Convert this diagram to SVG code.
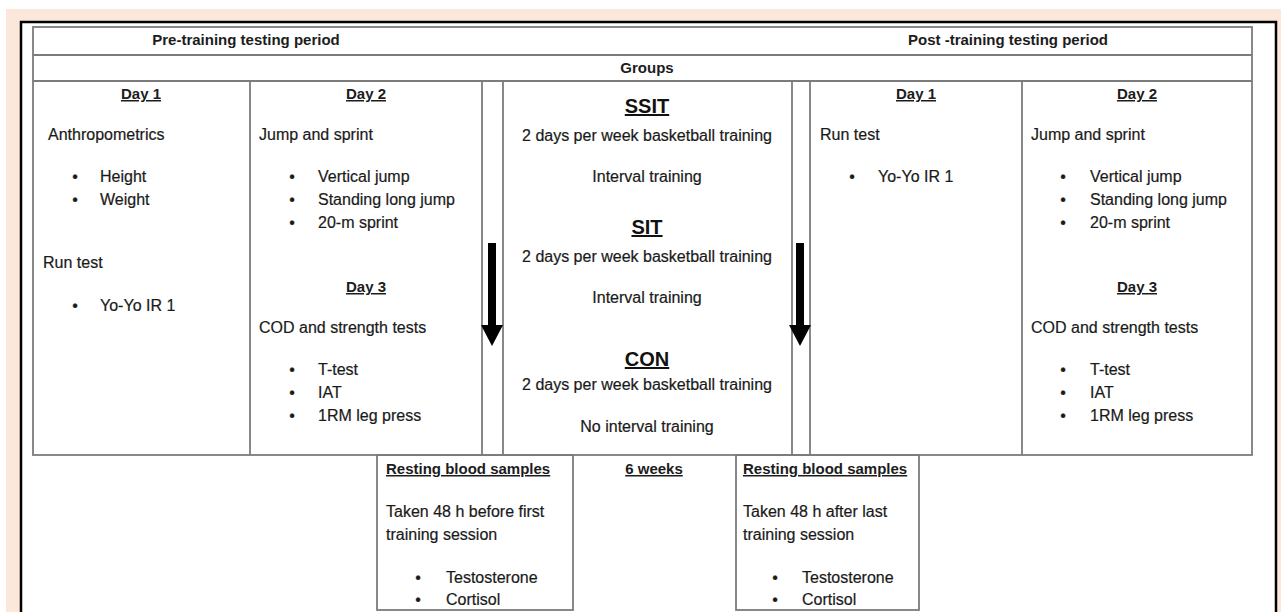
<svg xmlns="http://www.w3.org/2000/svg" width="1281" height="612" viewBox="0 0 1281 612">
<style>
.ln{fill:none;stroke:#7c7c7c;stroke-width:1.8}
.h{font-family:"Liberation Sans",Arial,sans-serif;font-weight:bold;font-size:15px;fill:#1c1c1c}
.u{text-decoration:underline}
.g{font-family:"Liberation Sans",Arial,sans-serif;font-weight:bold;font-size:20px;fill:#111;text-decoration:underline}
.t{font-family:"Liberation Sans",Arial,sans-serif;font-size:16px;fill:#1a1a1a;stroke:#1a1a1a;stroke-width:0.2}
.m{text-anchor:middle}
.ar{fill:#000}
</style>
<rect x="0" y="0" width="1281" height="612" fill="#ffffff"/>
<rect x="6" y="9" width="1275" height="603" fill="#fbe8da"/>
<rect x="21" y="22" width="1255" height="600" fill="#ffffff" stroke="#000" stroke-width="2.5"/>

<g id="table">
<rect class="ln" x="33" y="27" width="1219" height="428"/>
<line class="ln" x1="33" y1="55" x2="1252" y2="55"/>
<line class="ln" x1="33" y1="81" x2="1252" y2="81"/>
<line class="ln" x1="250" y1="81" x2="250" y2="455"/>
<line class="ln" x1="482" y1="81" x2="482" y2="455"/>
<line class="ln" x1="503" y1="81" x2="503" y2="455"/>
<line class="ln" x1="792" y1="81" x2="792" y2="455"/>
<line class="ln" x1="810" y1="81" x2="810" y2="455"/>
<line class="ln" x1="1022" y1="81" x2="1022" y2="455"/>
</g>

<g id="pre-header">
<text class="h m" x="246" y="45">Pre-training testing period</text>
</g>
<g id="post-header">
<text class="h m" x="1008" y="45">Post -training testing period</text>
</g>
<g id="groups-header">
<text class="h m" x="647" y="73">Groups</text>
</g>

<g id="pre-day1">
<text class="h u m" x="141" y="99">Day 1</text>
<text class="t" x="48" y="140">Anthropometrics</text>
<text class="t m" x="75" y="182">•</text><text class="t" x="100" y="182">Height</text>
<text class="t m" x="75" y="205">•</text><text class="t" x="100" y="205">Weight</text>
<text class="t" x="43" y="268">Run test</text>
<text class="t m" x="75" y="311">•</text><text class="t" x="100" y="311">Yo-Yo IR 1</text>
</g>

<g id="pre-day2">
<text class="h u m" x="366" y="99">Day 2</text>
<text class="t" x="259" y="140">Jump and sprint</text>
<text class="t m" x="292" y="182">•</text><text class="t" x="318" y="182">Vertical jump</text>
<text class="t m" x="292" y="205">•</text><text class="t" x="318" y="205">Standing long jump</text>
<text class="t m" x="292" y="228">•</text><text class="t" x="318" y="228">20-m sprint</text>
<text class="h u m" x="366" y="292">Day 3</text>
<text class="t" x="259" y="333">COD and strength tests</text>
<text class="t m" x="292" y="375">•</text><text class="t" x="318" y="375">T-test</text>
<text class="t m" x="292" y="398">•</text><text class="t" x="318" y="398">IAT</text>
<text class="t m" x="292" y="421">•</text><text class="t" x="318" y="421">1RM leg press</text>
</g>

<g id="groups">
<text class="g m" x="647" y="113">SSIT</text>
<text class="t m" x="647" y="141">2 days per week basketball training</text>
<text class="t m" x="647" y="182">Interval training</text>
<text class="g m" x="647" y="234">SIT</text>
<text class="t m" x="647" y="262">2 days per week basketball training</text>
<text class="t m" x="647" y="303">Interval training</text>
<text class="g m" x="647" y="366">CON</text>
<text class="t m" x="647" y="390">2 days per week basketball training</text>
<text class="t m" x="647" y="432">No interval training</text>
</g>

<g id="post-day1">
<text class="h u m" x="916" y="99">Day 1</text>
<text class="t" x="820" y="140">Run test</text>
<text class="t m" x="852" y="182">•</text><text class="t" x="878" y="182">Yo-Yo IR 1</text>
</g>

<g id="post-day2">
<text class="h u m" x="1137" y="99">Day 2</text>
<text class="t" x="1031" y="140">Jump and sprint</text>
<text class="t m" x="1063" y="182">•</text><text class="t" x="1090" y="182">Vertical jump</text>
<text class="t m" x="1063" y="205">•</text><text class="t" x="1090" y="205">Standing long jump</text>
<text class="t m" x="1063" y="228">•</text><text class="t" x="1090" y="228">20-m sprint</text>
<text class="h u m" x="1137" y="292">Day 3</text>
<text class="t" x="1031" y="333">COD and strength tests</text>
<text class="t m" x="1063" y="375">•</text><text class="t" x="1090" y="375">T-test</text>
<text class="t m" x="1063" y="398">•</text><text class="t" x="1090" y="398">IAT</text>
<text class="t m" x="1063" y="421">•</text><text class="t" x="1090" y="421">1RM leg press</text>
</g>

<g id="connectors">
<path class="ar" d="M488,243 H496 V325 H503 L492,346 L481,325 H488 Z"/>
<path class="ar" d="M796,243 H804 V325 H811 L800,346 L789,325 H796 Z"/>
</g>

<g id="blood-pre">
<rect class="ln" x="377" y="455" width="196" height="155"/>
<text class="h u" x="386" y="474">Resting blood samples</text>
<text class="t" x="386" y="517">Taken 48 h before first</text>
<text class="t" x="386" y="540">training session</text>
<text class="t m" x="418" y="583">•</text><text class="t" x="446" y="583">Testosterone</text>
<text class="t m" x="418" y="605">•</text><text class="t" x="446" y="605">Cortisol</text>
</g>

<g id="weeks">
<text class="h u m" x="654" y="474">6 weeks</text>
</g>

<g id="blood-post">
<rect class="ln" x="736" y="455" width="183" height="155"/>
<text class="h u" x="743" y="474">Resting blood samples</text>
<text class="t" x="743" y="517">Taken 48 h after last</text>
<text class="t" x="743" y="540">training session</text>
<text class="t m" x="775" y="583">•</text><text class="t" x="802" y="583">Testosterone</text>
<text class="t m" x="775" y="605">•</text><text class="t" x="802" y="605">Cortisol</text>
</g>
</svg>
